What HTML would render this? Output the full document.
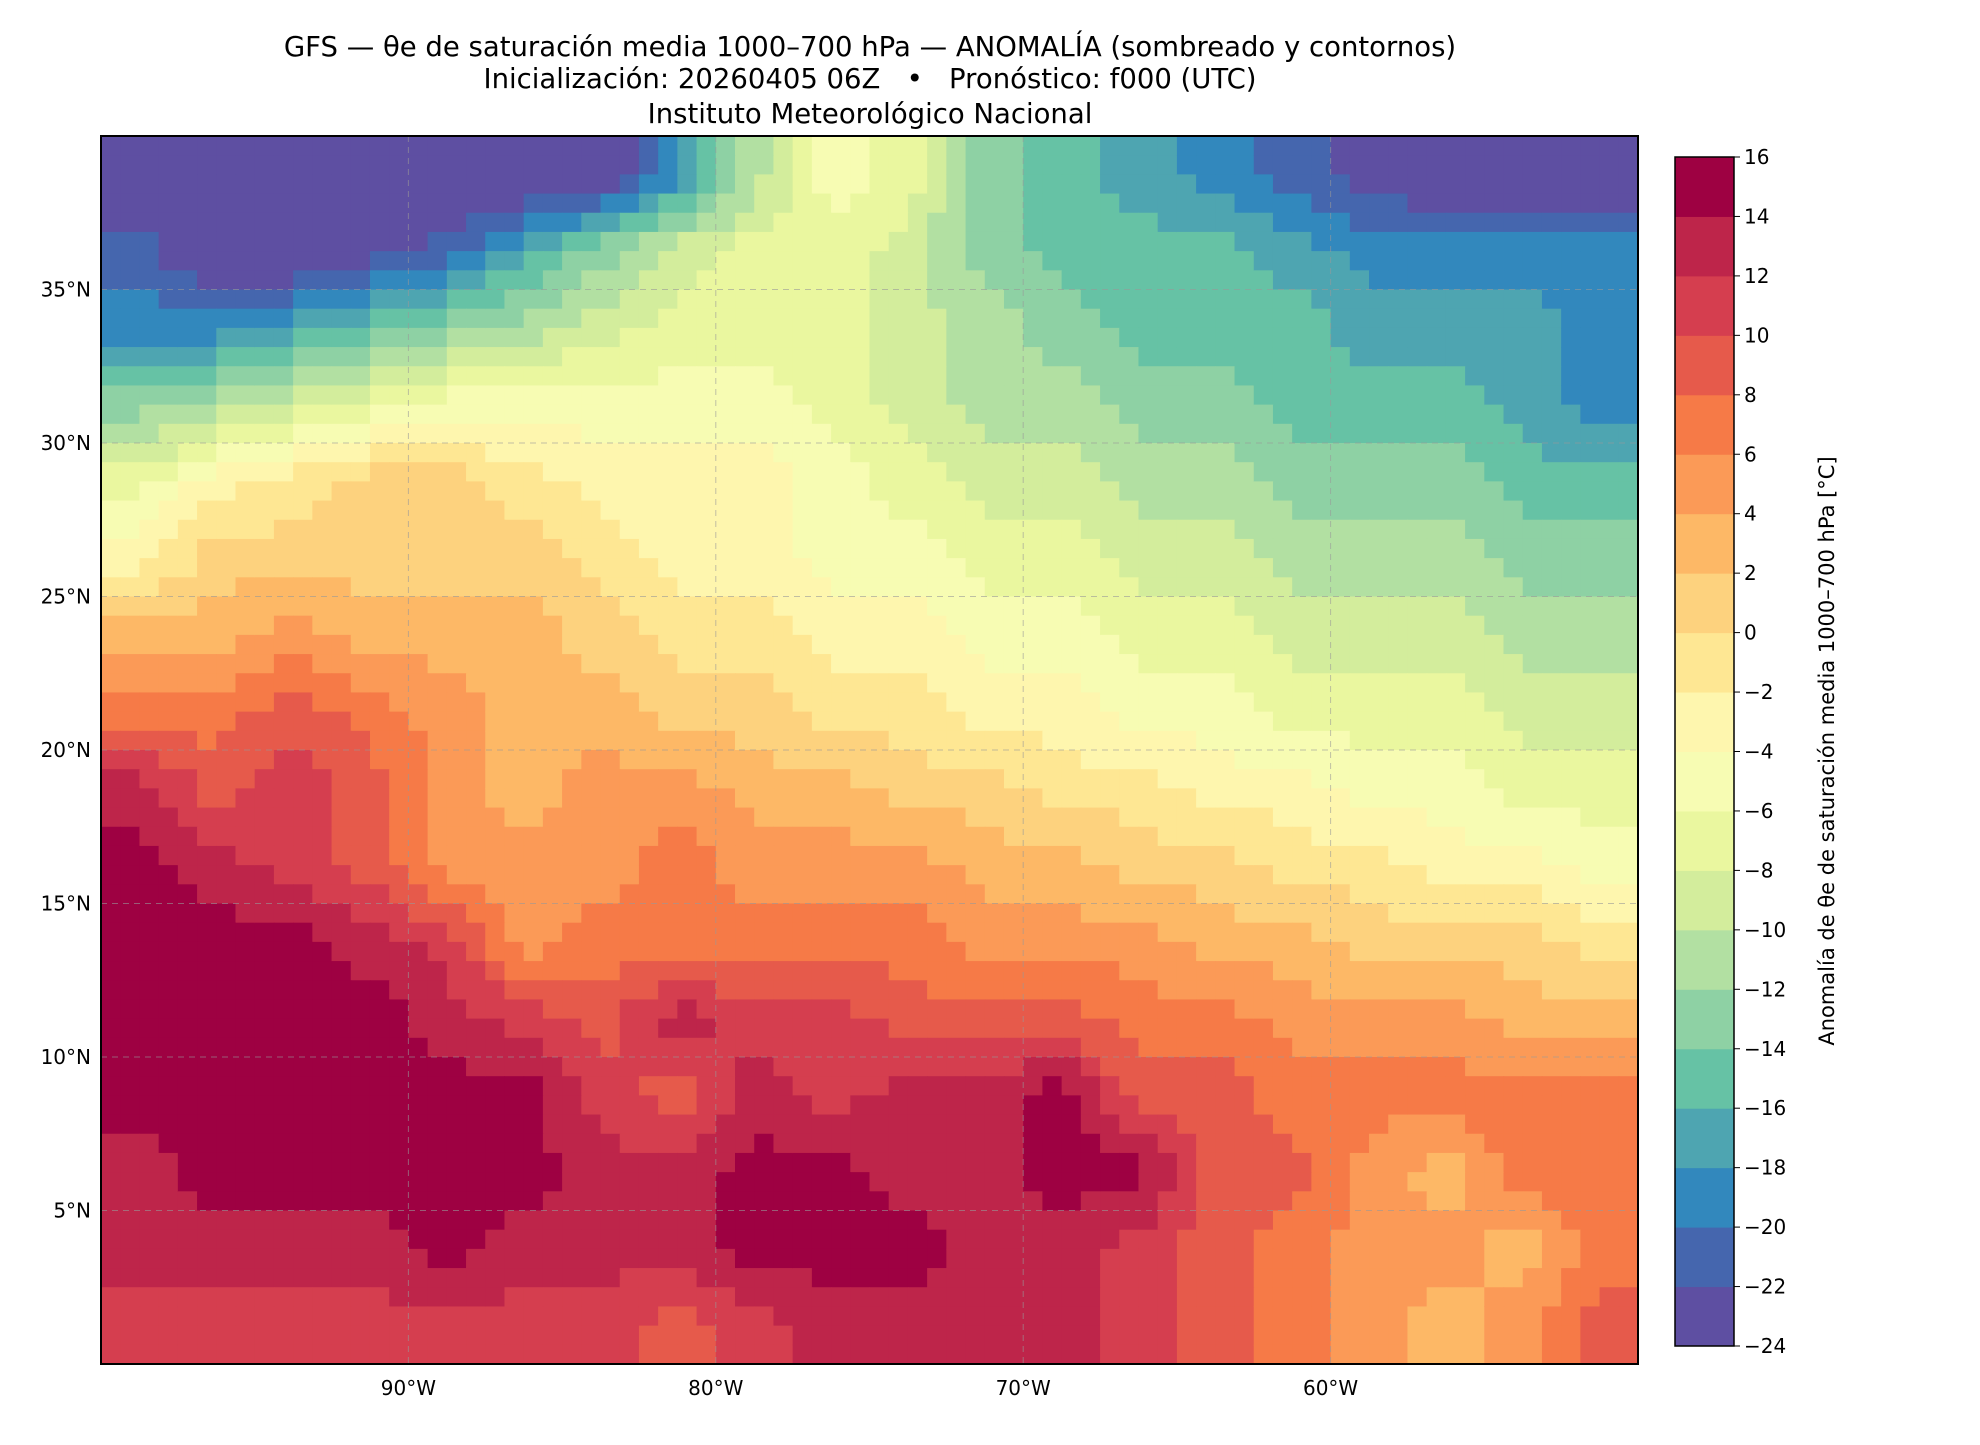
<!DOCTYPE html>
<html><head><meta charset="utf-8"><style>
body{margin:0;background:#fff;}
svg text{font-family:"DejaVu Sans","Liberation Sans",sans-serif;white-space:pre;}
</style></head><body>
<svg id="chart" width="1980" height="1440" xmlns="http://www.w3.org/2000/svg">
<rect width="1980" height="1440" fill="#fff"/>
<text x="870" y="56" font-size="27.5" text-anchor="middle">GFS — θe de saturación media 1000–700 hPa — ANOMALÍA (sombreado y contornos)</text>
<text x="870" y="88" font-size="27.5" text-anchor="middle">Inicialización: 20260405 06Z   •   Pronóstico: f000 (UTC)</text>
<text x="870" y="123" font-size="27.5" text-anchor="middle">Instituto Meteorológico Nacional</text>
<g id="map"></g>
<g id="cbar"></g>
<text transform="translate(1834,751) rotate(-90)" font-size="21" text-anchor="middle">Anomalía de θe de saturación media 1000–700 hPa [°C]</text>
</svg>
<script>
const lons = [-100,-97.5,-95,-92.5,-90,-87.5,-85,-82.5,-80,-77.5,-75,-72.5,-70,-67.5,-65,-62.5,-60,-57.5,-55,-52.5];
const lats = [40,37.5,35,32.5,30,27.5,25,22.5,20,17.5,15,12.5,10,7.5,5,2.5];
const grid = [
[-25,-25,-25,-25,-25,-25,-24,-19,-11,-5,-7,-13,-15,-17,-19,-21,-23,-25,-25,-25],
[-21,-25,-25,-23,-21,-17,-13,-9,-7,-7,-9,-13,-15,-15,-15,-17,-19,-19,-19,-19],
[-19,-19,-17,-15,-13,-11,-9,-7,-7,-7,-9,-11,-13,-15,-15,-15,-17,-17,-17,-19],
[-13,-11,-9,-7,-5,-5,-5,-5,-5,-7,-9,-11,-11,-13,-13,-15,-15,-15,-17,-19],
[-7,-3,-1,1,1,-1,-3,-3,-3,-5,-7,-9,-9,-11,-11,-13,-13,-13,-15,-15],
[-3,1,1,1,1,1,-1,-3,-3,-5,-5,-7,-7,-9,-9,-11,-11,-11,-13,-13],
[3,3,5,3,3,3,1,-1,-1,-3,-3,-5,-5,-7,-7,-9,-9,-9,-11,-11],
[7,7,9,7,5,3,3,1,1,-1,-1,-3,-3,-5,-5,-7,-7,-7,-9,-9],
[13,9,11,9,5,3,5,5,3,3,1,1,-1,-1,-3,-3,-5,-5,-7,-7],
[15,13,11,9,5,5,5,7,5,5,5,3,3,1,1,-1,-1,-3,-3,-5],
[15,15,15,13,11,5,7,7,7,7,7,5,5,5,3,3,1,1,1,-1],
[15,15,15,15,13,11,9,13,11,11,9,9,9,7,7,5,5,5,3,3],
[15,15,15,15,15,15,11,9,13,11,13,13,15,9,9,7,7,7,7,7],
[13,15,15,15,15,15,13,13,15,15,13,13,15,15,9,9,5,3,7,7],
[13,13,13,13,15,13,13,13,15,15,15,13,13,11,9,7,5,5,3,7],
[11,11,11,11,11,11,11,9,11,13,13,13,13,11,9,7,5,3,5,9]];
const levels = [-24,-22,-20,-18,-16,-14,-12,-10,-8,-6,-4,-2,0,2,4,6,8,10,12,14,16];
const colors = ["#5e4fa2","#4566ae","#3288bd","#4ea5b1","#66c2a5","#8ed1a4","#b2e0a2","#d3ed9c","#eaf79f","#f7fcb3","#fef6ae","#fee793","#fdd27e","#fdb866","#fb9a57","#f67a47","#e65a4b","#d53e4f","#be254a","#9e0142"];
const X0=101,X1=1638,Y0=136,Y1=1364;
const xs=lon=>X0+(lon+100)/50*(X1-X0);
const ys=lat=>Y0+(40-lat)/40*(Y1-Y0);
function col(v){for(let i=0;i<colors.length;i++){if(v<levels[i+1])return colors[i];}return colors[colors.length-1];}
const NS="http://www.w3.org/2000/svg";
const map=document.getElementById('map');
function mk(t,a,p){const e=document.createElementNS(NS,t);for(const k in a)e.setAttribute(k,a[k]);(p||map).appendChild(e);return e;}
const NR=grid.length,NC=grid[0].length,SUB=4;
function val(r,c){r=Math.max(0,Math.min(NR-1,r));c=Math.max(0,Math.min(NC-1,c));return grid[r][c];}
function sample(fr,fc){const r0=Math.floor(fr),c0=Math.floor(fc),dr=fr-r0,dc=fc-c0;
  return val(r0,c0)*(1-dr)*(1-dc)+val(r0,c0+1)*(1-dr)*dc+val(r0+1,c0)*dr*(1-dc)+val(r0+1,c0+1)*dr*dc;}
for(let r=0;r<NR;r++)for(let c=0;c<NC;c++)for(let i=0;i<SUB;i++)for(let j=0;j<SUB;j++){
  const fr=r+(i+0.5)/SUB-0.5, fc=c+(j+0.5)/SUB-0.5;
  const v=sample(fr,fc);
  const lon=lons[c]+2.5*j/SUB, lat=lats[r]-2.5*i/SUB;
  const x=xs(lon),y=ys(lat);
  const e=mk('rect',{x:x,y:y,width:xs(lon+2.5/SUB)-x+0.6,height:ys(lat-2.5/SUB)-y+0.6,fill:col(v)});
  
  
}
const lonTicks=[-90,-80,-70,-60], lonLabels=["90°W","80°W","70°W","60°W"];
const latTicks=[35,30,25,20,15,10,5], latLabels=["35°N","30°N","25°N","20°N","15°N","10°N","5°N"];
const svg=document.getElementById('chart');
lonTicks.forEach((l,i)=>{
  const g=mk('line',{x1:xs(l),x2:xs(l),y1:Y0,y2:Y1,stroke:"#999","stroke-dasharray":"6,5","stroke-width":1,opacity:0.6});
  
  
  const t=mk('text',{x:xs(l),y:Y1+31,"font-size":20,"text-anchor":"middle"},svg);t.textContent=lonLabels[i];
  
  
});
latTicks.forEach((l,i)=>{
  const g=mk('line',{x1:X0,x2:X1,y1:ys(l),y2:ys(l),stroke:"#999","stroke-dasharray":"6,5","stroke-width":1,opacity:0.6});
  
  
  const t=mk('text',{x:X0-10,y:ys(l)+7,"font-size":20,"text-anchor":"end"},svg);t.textContent=latLabels[i];
  
  
});
const fr=mk('rect',{x:X0,y:Y0,width:X1-X0,height:Y1-Y0,fill:"none",stroke:"#000","stroke-width":2},svg);


const cb=document.getElementById('cbar');
const CX=1675,CW=59,CT=157,CB=1346;
const cy=v=>CB-(v+24)/40*(CB-CT);
colors.forEach((c,i)=>{
  const e=mk('rect',{x:CX,y:cy(levels[i+1]),width:CW,height:cy(levels[i])-cy(levels[i+1])+0.5,fill:c},cb);
  
  
});
mk('rect',{x:CX,y:CT,width:CW,height:CB-CT,fill:"none",stroke:"#000","stroke-width":1.5},cb);
levels.forEach(v=>{
  mk('line',{x1:CX+CW,x2:CX+CW+6,y1:cy(v),y2:cy(v),stroke:"#000"},cb);
  const t=mk('text',{x:CX+CW+10,y:cy(v)+7,"font-size":20},cb);t.textContent=(v<0?"−":"")+Math.abs(v);
  
  
});
</script>
</body></html>
